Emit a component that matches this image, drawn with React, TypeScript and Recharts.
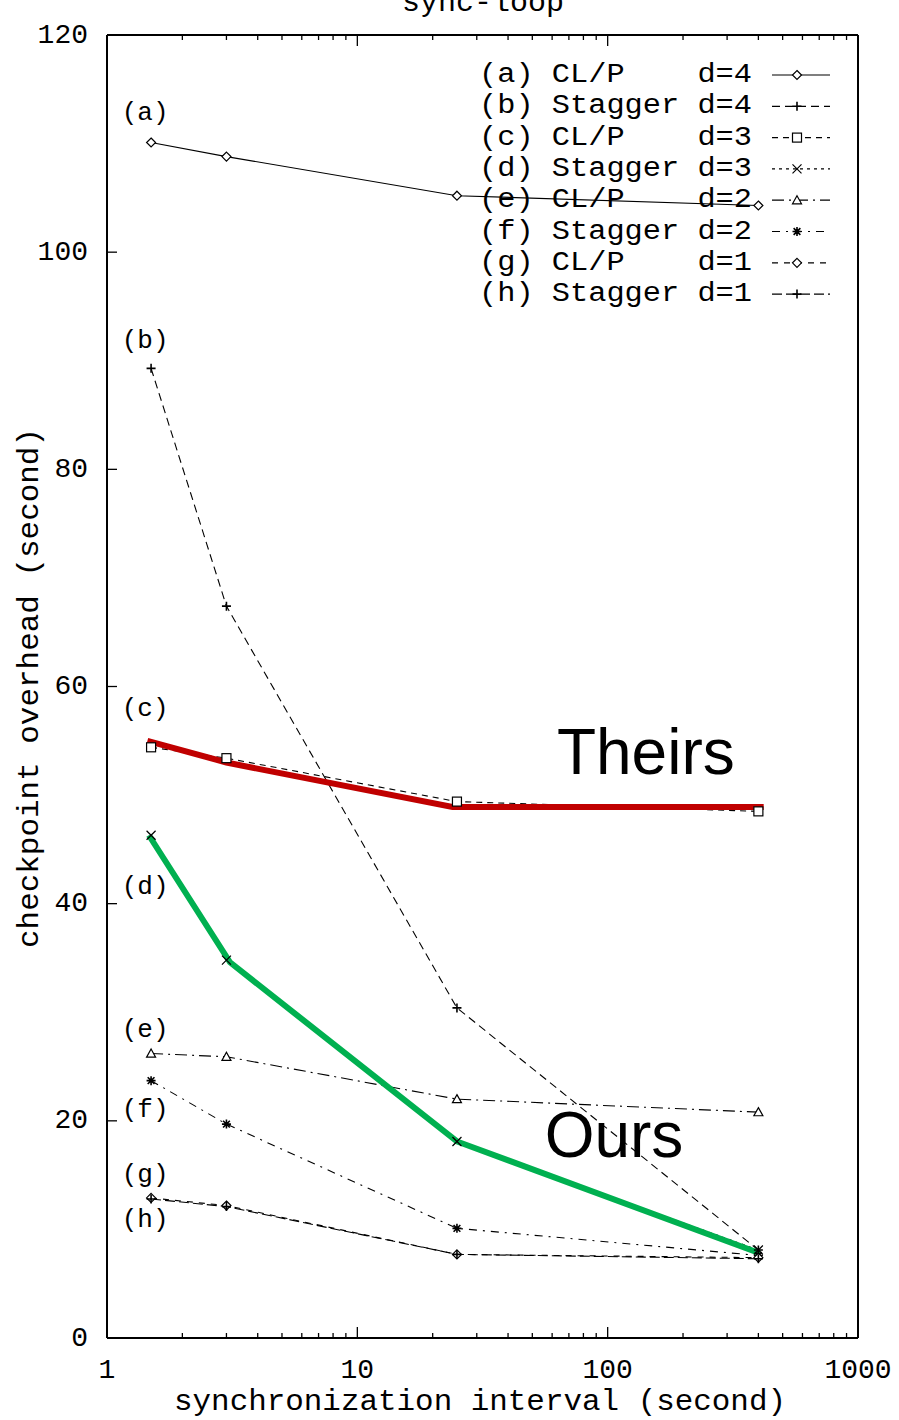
import React from 'react';
import { LineChart, Line, XAxis, YAxis, ReferenceDot, Customized } from 'recharts';

// synchronization interval (s) for the gnuplot series
const intervals = [1.5, 3, 25, 400];

const clpD4 = [110.1, 108.8, 105.2, 104.3];
const staggerD4 = [89.3, 67.4, 30.4, 8.1];
const clpD3 = [54.4, 53.4, 49.4, 48.5];
const staggerD3 = [46.3, 34.8, 18.1, 8.1];
const clpD2 = [26.2, 25.9, 22.0, 20.8];
const staggerD2 = [23.7, 19.7, 10.1, 7.6];
const clpD1 = [12.9, 12.2, 7.7, 7.4];
const staggerD1 = [12.8, 12.1, 7.7, 7.3];

// overlay lines drawn on top of the original plot
const theirsX = [1.45, 3, 24, 420];
const theirsY = [55.0, 53.0, 48.9, 48.9];
const oursX = [1.47, 3.1, 25, 405];
const oursY = [46.3, 34.6, 18.1, 7.8];

const legendLabels = [
  '(a) CL/P    d=4',
  '(b) Stagger d=4',
  '(c) CL/P    d=3',
  '(d) Stagger d=3',
  '(e) CL/P    d=2',
  '(f) Stagger d=2',
  '(g) CL/P    d=1',
  '(h) Stagger d=1',
];
const seriesTags = ['(a)', '(b)', '(c)', '(d)', '(e)', '(f)', '(g)', '(h)'];
const tagValues = [112.8, 91.8, 57.9, 41.5, 28.4, 21.0, 15.0, 10.9];
const tagInterval = 1.42;

const xMajor = [1, 10, 100, 1000];
const xTicks = [
  1, 2, 3, 4, 5, 6, 7, 8, 9,
  10, 20, 30, 40, 50, 60, 70, 80, 90,
  100, 200, 300, 400, 500, 600, 700, 800, 900, 1000,
];
const yTicks = [0, 20, 40, 60, 80, 100, 120];

const MONO = '"Liberation Mono", "DejaVu Sans Mono", monospace';

type Shape = 'diamond' | 'plus' | 'square' | 'cross' | 'triangle' | 'star';

const series: { values: number[]; shape: Shape; dash?: string }[] = [
  { values: clpD4, shape: 'diamond' },
  { values: staggerD4, shape: 'plus', dash: '8 5' },
  { values: clpD3, shape: 'square', dash: '6 5' },
  { values: staggerD3, shape: 'cross', dash: '3 4' },
  { values: clpD2, shape: 'triangle', dash: '12 5 2 5' },
  { values: staggerD2, shape: 'star', dash: '8 6 2 6' },
  { values: clpD1, shape: 'diamond', dash: '6 6' },
  { values: staggerD1, shape: 'plus', dash: '10 4' },
];

function Marker({ shape, cx, cy }: { shape: Shape; cx: number; cy: number }) {
  const s = 4.5;
  const common = { stroke: '#000', strokeWidth: 1.2 };
  switch (shape) {
    case 'diamond':
      return <polygon points={`${cx},${cy - s} ${cx + s},${cy} ${cx},${cy + s} ${cx - s},${cy}`} fill="#fff" {...common} />;
    case 'square':
      return <rect x={cx - s} y={cy - s} width={2 * s} height={2 * s} fill="#fff" {...common} />;
    case 'triangle':
      return <polygon points={`${cx},${cy - s} ${cx + s},${cy + s * 0.8} ${cx - s},${cy + s * 0.8}`} fill="#fff" {...common} />;
    case 'plus':
      return <path d={`M${cx - s},${cy}H${cx + s}M${cx},${cy - s}V${cy + s}`} fill="none" {...common} strokeWidth={1.6} />;
    case 'cross':
      return <path d={`M${cx - s},${cy - s}L${cx + s},${cy + s}M${cx - s},${cy + s}L${cx + s},${cy - s}`} fill="none" {...common} />;
    case 'star':
      return (
        <path
          d={`M${cx - s},${cy}H${cx + s}M${cx},${cy - s}V${cy + s}M${cx - s * 0.75},${cy - s * 0.75}L${cx + s * 0.75},${cy + s * 0.75}M${cx - s * 0.75},${cy + s * 0.75}L${cx + s * 0.75},${cy - s * 0.75}`}
          fill="none"
          {...common}
          strokeWidth={1.6}
        />
      );
  }
  return null;
}

const BottomTick = (props: any) => {
  const { x, y, payload } = props;
  const major = xMajor.includes(payload.value);
  return (
    <g>
      <line x1={x} x2={x} y1={y} y2={y - (major ? 11 : 5)} stroke="#000" strokeWidth={1.3} />
      {major && (
        <text x={x} y={y + 32} textAnchor="middle" dominantBaseline="central" fontFamily={MONO} fontSize={28} fill="#000">
          {payload.value}
        </text>
      )}
    </g>
  );
};

const TopTick = (props: any) => {
  const { x, y, payload } = props;
  const major = xMajor.includes(payload.value);
  return <line x1={x} x2={x} y1={y} y2={y + (major ? 11 : 5)} stroke="#000" strokeWidth={1.3} />;
};

const LeftTick = (props: any) => {
  const { x, y, payload } = props;
  return (
    <g>
      <line x1={x} x2={x + 10} y1={y} y2={y} stroke="#000" strokeWidth={1.3} />
      <text x={x - 19} y={y} textAnchor="end" dominantBaseline="central" fontFamily={MONO} fontSize={28} fill="#000">
        {payload.value}
      </text>
    </g>
  );
};

const RightTick = (props: any) => {
  const { x, y } = props;
  return <line x1={x} x2={x - 10} y1={y} y2={y} stroke="#000" strokeWidth={1.3} />;
};

const LegendBox = () => (
  <g fontFamily={MONO} fontSize={27} fill="#000">
    {series.map((s, i) => {
      const y = 75 + i * 31.3;
      return (
        <g key={i}>
          <text
            x={479}
            y={y}
            dominantBaseline="central"
            textLength={273}
            lengthAdjust="spacingAndGlyphs"
            style={{ whiteSpace: 'pre' }}
          >
            {legendLabels[i]}
          </text>
          <line x1={772} x2={830} y1={y} y2={y} stroke="#000" strokeWidth={1.2} strokeDasharray={s.dash} />
          <Marker shape={s.shape} cx={797} cy={y} />
        </g>
      );
    })}
    <text x={483} y={11} textAnchor="middle" fontSize={30}>sync-loop</text>
    <text x={480} y={1410} textAnchor="middle" fontSize={30} textLength={612} lengthAdjust="spacingAndGlyphs">
      synchronization interval (second)
    </text>
    <text
      x={0}
      y={0}
      transform="translate(30,688) rotate(-90)"
      textAnchor="middle"
      dominantBaseline="central"
      fontSize={30}
      textLength={520}
      lengthAdjust="spacingAndGlyphs"
    >
      checkpoint overhead (second)
    </text>
  </g>
);

const toPoints = (xs: number[], ys: number[]) => xs.map((x, i) => ({ x, y: ys[i] }));

export default function App() {
  return (
    <div style={{ width: 899, height: 1420, background: '#fff' }}>
      <style>{'body{margin:0}'}</style>
      <LineChart width={899} height={1420} margin={{ top: 0, right: 0, bottom: 0, left: 0 }}>
        <XAxis
          xAxisId="b"
          dataKey="x"
          type="number"
          scale="log"
          domain={[1, 1000]}
          allowDataOverflow
          ticks={xTicks}
          interval={0}
          height={82}
          tickSize={0}
          tickMargin={0}
          tickLine={false}
          axisLine={{ stroke: '#000', strokeWidth: 2 }}
          tick={BottomTick}
        />
        <XAxis
          xAxisId="t"
          orientation="top"
          dataKey="x"
          type="number"
          scale="log"
          domain={[1, 1000]}
          allowDataOverflow
          ticks={xTicks}
          interval={0}
          height={35}
          tickSize={0}
          tickMargin={0}
          tickLine={false}
          axisLine={{ stroke: '#000', strokeWidth: 2 }}
          tick={TopTick}
        />
        <YAxis
          yAxisId="l"
          type="number"
          domain={[0, 120]}
          ticks={yTicks}
          interval={0}
          width={107}
          tickSize={0}
          tickMargin={0}
          tickLine={false}
          axisLine={{ stroke: '#000', strokeWidth: 2 }}
          tick={LeftTick}
        />
        <YAxis
          yAxisId="r"
          orientation="right"
          type="number"
          domain={[0, 120]}
          ticks={yTicks}
          interval={0}
          width={41}
          tickSize={0}
          tickMargin={0}
          tickLine={false}
          axisLine={{ stroke: '#000', strokeWidth: 2 }}
          tick={RightTick}
        />
        <Customized component={LegendBox} />
        {series.map((s, i) => (
          <Line
            key={i}
            xAxisId="b"
            yAxisId="l"
            data={toPoints(intervals, s.values)}
            dataKey="y"
            type="linear"
            stroke="#000"
            strokeWidth={1.1}
            strokeDasharray={s.dash}
            dot={(p: any) => <Marker key={p.index} shape={s.shape} cx={p.cx} cy={p.cy} />}
            activeDot={false}
            isAnimationActive={false}
          />
        ))}
        <Line
          xAxisId="b"
          yAxisId="l"
          data={toPoints(theirsX, theirsY)}
          dataKey="y"
          type="linear"
          stroke="#c00000"
          strokeWidth={6}
          dot={false}
          activeDot={false}
          isAnimationActive={false}
        />
        <Line
          xAxisId="b"
          yAxisId="l"
          data={toPoints(oursX, oursY)}
          dataKey="y"
          type="linear"
          stroke="#00b050"
          strokeWidth={6}
          dot={false}
          activeDot={false}
          isAnimationActive={false}
        />
        {seriesTags.map((t, i) => (
          <ReferenceDot
            key={t}
            xAxisId="b"
            yAxisId="l"
            x={tagInterval}
            y={tagValues[i]}
            shape={(p: any) => (
              <text x={p.cx} y={p.cy} textAnchor="middle" dominantBaseline="central" fontFamily={MONO} fontSize={26} fill="#000">
                {t}
              </text>
            )}
          />
        ))}
        <ReferenceDot
          xAxisId="b"
          yAxisId="l"
          x={142}
          y={51.9}
          shape={(p: any) => (
            <text x={p.cx} y={p.cy} textAnchor="middle" fontFamily='"Liberation Sans", Arial, sans-serif' fontSize={64} fill="#000">
              Theirs
            </text>
          )}
        />
        <ReferenceDot
          xAxisId="b"
          yAxisId="l"
          x={106}
          y={16.7}
          shape={(p: any) => (
            <text x={p.cx} y={p.cy} textAnchor="middle" fontFamily='"Liberation Sans", Arial, sans-serif' fontSize={64} fill="#000">
              Ours
            </text>
          )}
        />
      </LineChart>
    </div>
  );
}
